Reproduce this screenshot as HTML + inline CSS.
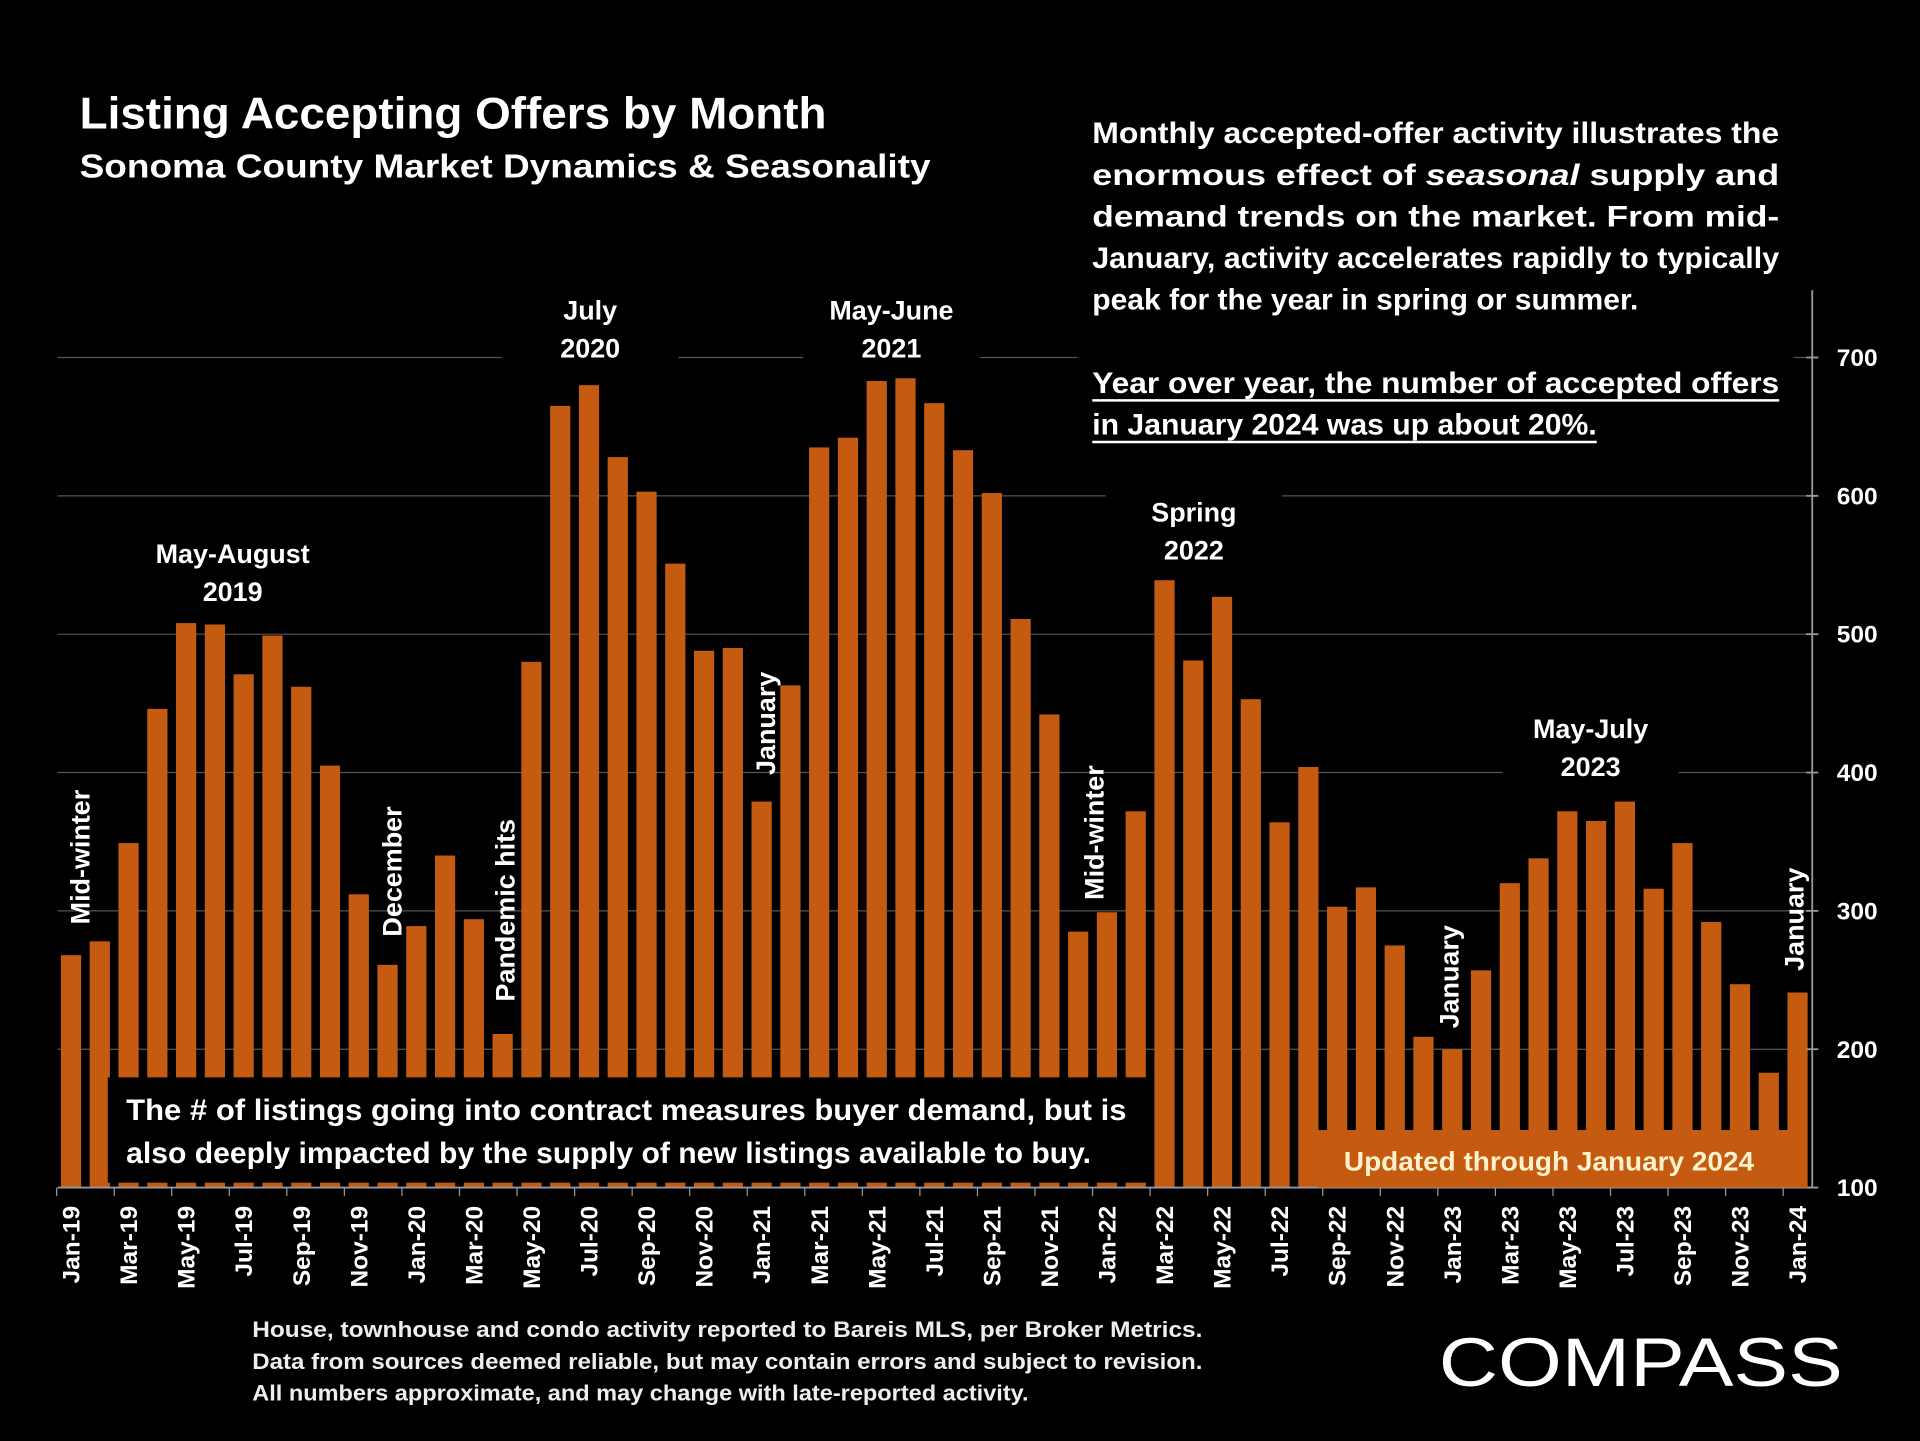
<!DOCTYPE html>
<html><head><meta charset="utf-8"><style>
html,body{margin:0;padding:0;background:#000;}
svg{display:block;}
text{font-family:"Liberation Sans",sans-serif;font-weight:bold;fill:#fff;}
</style></head><body>
<svg id="chart" width="1920" height="1441" viewBox="0 0 1568 1177" preserveAspectRatio="none">
<rect x="0" y="0" width="1568" height="1177" fill="#000"/>
<g id="grid"></g>
<g id="bars"></g>
<g id="axis"></g>

<text x="65" y="105" font-size="36" textLength="610" lengthAdjust="spacingAndGlyphs">Listing Accepting Offers by Month</text>
<text x="65" y="145" font-size="27" textLength="695" lengthAdjust="spacingAndGlyphs">Sonoma County Market Dynamics &amp; Seasonality</text>

<g>
<rect x="880" y="88" width="585" height="280" fill="#000"/>
<text x="892" y="117" font-size="24" textLength="561" lengthAdjust="spacingAndGlyphs">Monthly accepted-offer activity illustrates the</text>
<text x="892" y="151" font-size="24" textLength="561" lengthAdjust="spacingAndGlyphs">enormous effect of <tspan font-style="italic">seasonal</tspan> supply and</text>
<text x="892" y="185" font-size="24" textLength="561" lengthAdjust="spacingAndGlyphs">demand trends on the market.  From mid-</text>
<text x="892" y="219" font-size="24" textLength="561" lengthAdjust="spacingAndGlyphs">January, activity accelerates rapidly to typically</text>
<text x="892" y="253" font-size="24" textLength="446" lengthAdjust="spacingAndGlyphs">peak for the year in spring or summer.</text>
<text x="892" y="321" font-size="24" textLength="561" lengthAdjust="spacingAndGlyphs">Year over year, the number of accepted offers</text>
<line x1="892" y1="327" x2="1453" y2="327" stroke="#fff" stroke-width="2"/>
<text x="892" y="355" font-size="24" textLength="412" lengthAdjust="spacingAndGlyphs">in January 2024 was up about 20%.</text>
<line x1="892" y1="361" x2="1304" y2="361" stroke="#fff" stroke-width="2"/>
</g>

<g id="annot"></g>

<g>
<rect x="88" y="880" width="848" height="86" fill="#000"/>
<text x="103" y="915" font-size="24" textLength="817" lengthAdjust="spacingAndGlyphs">The # of listings going into contract measures buyer demand, but is</text>
<text x="103" y="950" font-size="24" textLength="788" lengthAdjust="spacingAndGlyphs">also deeply impacted by the supply of new listings available to buy.</text>
</g>

<g>
<rect x="1076" y="923" width="400" height="47" fill="#C55A11"/>
<text x="1265" y="956" font-size="22" text-anchor="middle" textLength="335" lengthAdjust="spacingAndGlyphs" style="fill:#fff2cc">Updated through January 2024</text>
</g>

<g>
<text x="206" y="1092" font-size="18" textLength="776" lengthAdjust="spacingAndGlyphs" style="fill:#eee">House, townhouse and condo activity reported to Bareis MLS, per Broker Metrics.</text>
<text x="206" y="1118" font-size="18" textLength="776" lengthAdjust="spacingAndGlyphs" style="fill:#eee">Data from sources deemed reliable, but may contain errors and subject to revision.</text>
<text x="206" y="1144" font-size="18" textLength="634" lengthAdjust="spacingAndGlyphs" style="fill:#eee">All numbers approximate, and may change with late-reported activity.</text>
</g>

<text x="1175" y="1132" font-size="56" textLength="330" lengthAdjust="spacingAndGlyphs" style="font-weight:normal;fill:#fff">COMPASS</text>
</svg>
<script>
const categories=["Jan-19","Feb-19","Mar-19","Apr-19","May-19","Jun-19","Jul-19","Aug-19","Sep-19","Oct-19","Nov-19","Dec-19",
"Jan-20","Feb-20","Mar-20","Apr-20","May-20","Jun-20","Jul-20","Aug-20","Sep-20","Oct-20","Nov-20","Dec-20",
"Jan-21","Feb-21","Mar-21","Apr-21","May-21","Jun-21","Jul-21","Aug-21","Sep-21","Oct-21","Nov-21","Dec-21",
"Jan-22","Feb-22","Mar-22","Apr-22","May-22","Jun-22","Jul-22","Aug-22","Sep-22","Oct-22","Nov-22","Dec-22",
"Jan-23","Feb-23","Mar-23","Apr-23","May-23","Jun-23","Jul-23","Aug-23","Sep-23","Oct-23","Nov-23","Dec-23","Jan-24"];
const values=[268,278,349,446,508,507,471,499,462,405,312,261,
289,340,294,211,480,665,680,628,603,551,488,490,
379,463,635,642,683,685,667,633,602,511,442,285,
299,372,539,481,527,453,364,404,303,317,275,209,
200,257,320,338,372,365,379,316,349,292,247,183,241];
const yTicks=[100,200,300,400,500,600,700];

const NS="http://www.w3.org/2000/svg";
const yMin=100,yMax=700,yBottom=970,yTop=292;
function y(v){return yBottom-(v-yMin)/(yMax-yMin)*(yBottom-yTop);}
const x0=58,step=(1468-58)/(categories.length-1);
function x(i){return x0+i*step;}
function mk(tag,attrs,parent){const e=document.createElementNS(NS,tag);for(const k in attrs)e.setAttribute(k,attrs[k]);parent.appendChild(e);return e;}

const grid=document.getElementById('grid');
yTicks.forEach(t=>{if(t===100)return;
 const l=mk('line',{x1:47,x2:1475,y1:y(t),y2:y(t),stroke:'#555','stroke-width':1},grid);
 
 
});
const bars=document.getElementById('bars');
const bw=16.5;
values.forEach((v,i)=>{
 const r=mk('rect',{x:x(i)-bw/2,y:y(v),width:bw,height:yBottom-y(v),fill:'#C55A11'},bars);
 
 
});
const axis=document.getElementById('axis');
mk('line',{x1:47,x2:1480,y1:yBottom,y2:yBottom,stroke:'#999','stroke-width':1.5},axis);
mk('line',{x1:1480,x2:1480,y1:237,y2:yBottom,stroke:'#999','stroke-width':1.5},axis);
yTicks.forEach(t=>{
 mk('line',{x1:1475,x2:1485,y1:y(t),y2:y(t),stroke:'#999','stroke-width':1.5},axis);
 const tx=mk('text',{x:1500,y:y(t)+7,'font-size':20},axis);
 tx.textContent=t;
 
 
});
for(let i=0;i<=categories.length;i+=2){
 const bx=x(i)-step/2;
 mk('line',{x1:bx,x2:bx,y1:yBottom,y2:yBottom+7,stroke:'#999','stroke-width':1},axis);
}
categories.forEach((c,i)=>{if(i%2)return;
 const t=mk('text',{x:0,y:0,'font-size':20,'text-anchor':'end',transform:`translate(${x(i)+7},985) rotate(-90)`},axis);
 t.textContent=c;
 
 
});

const annot=document.getElementById('annot');
const topLabels=[["May-August","2019",190,460],["July","2020",482,261],["May-June","2021",728,261],["Spring","2022",975,426],["May-July","2023",1299,603]];
topLabels.forEach(a=>{
 mk('rect',{x:a[2]-72,y:a[3]-24,width:144,height:64,fill:'#000'},annot);
 const t1=mk('text',{x:a[2],y:a[3],'font-size':22,'text-anchor':'middle'},annot);t1.textContent=a[0];
 
 
 const t2=mk('text',{x:a[2],y:a[3]+31,'font-size':22,'text-anchor':'middle'},annot);t2.textContent=a[1];
 
 
});
const sideLabels=[["Mid-winter",65,755],["December",320,765],["Pandemic hits",412,818],["January",625,633],["Mid-winter",893,735],["January",1183,840],["January",1465,793]];
sideLabels.forEach(a=>{
 const t=mk('text',{x:0,y:0,'font-size':22,transform:`translate(${a[1]+8},${a[2]}) rotate(-90)`},annot);
 t.textContent=a[0];
 
 
});
</script>
</body></html>
